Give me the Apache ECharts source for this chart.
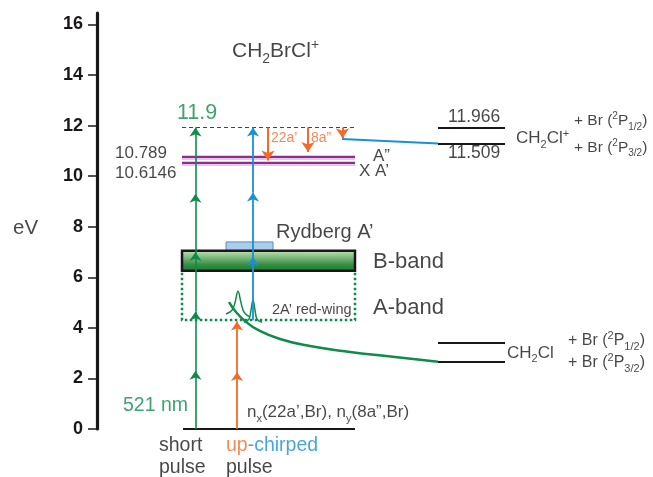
<!DOCTYPE html>
<html><head><meta charset="utf-8">
<script src="https://cdn.jsdelivr.net/npm/echarts@6/dist/echarts.min.js"></script>
<style>html,body{margin:0;padding:0;background:#fff}#c{width:653px;height:477px}</style>
</head><body><div id="c"></div>
<script>
// ---------------- data (energies in eV) ----------------
const yTickValues = [0, 2, 4, 6, 8, 10, 12, 14, 16];
const shortPulseE = [0, 2.3, 4.65, 7.0, 9.3, 11.93];      // 521 nm photons
const chirpRedE = [0, 2.25, 4.25];
const chirpBlueE = [4.3, 6.8, 9.35, 11.93];
const virtualLevelE = 11.93;                               // "11.9"
const ionStateE = [10.75, 10.52];
const ionStateValueLabels = ['10.789', '10.6146'];
const ionStateNames = ['A\u201D', 'X A\u2019'];
const holeArrowEndE = [10.62, 10.96, 11.5];
const holeArrowNames = ['22a\u2019', '8a\u201D'];
const ionAsymE = [11.93, 11.29];
const ionAsymLabels = ['11.966', '11.509'];
const neutralAsymE = [3.40, 2.66];
const bBandE = [6.26, 7.05];
const aBandE = [4.31, 6.26];
const rydbergE = [7.05, 7.40];
const curveE = [5.02, 4.63, 4.27, 3.92, 3.56, 3.28, 3.05, 2.85, 2.66];
const peak1E = [4.55, 4.7, 5.0, 5.45, 5.0, 4.62, 4.45];
const peak2E = [4.22, 4.35, 4.7, 5.1, 4.7, 4.35, 4.22];
const ionConnectE = [11.47, 11.29];

// ---------------- layout (horizontal positions, px) ----------------
const X = {
  level: [182, 355], shortX: 195.5, redX: 237, blueX: 253,
  hole: [268, 308, 342.5], asym: [438, 505], ryd: [226, 273],
  curve: [229, 236, 245, 258, 280, 310, 350, 395, 438],
  peak1: [226, 232, 235, 238, 241, 244, 249],
  peak2: [244, 249, 251, 253, 255, 257, 262],
  connect: [342, 438]
};
const C = { green: '#0f8b4c', orange: '#f26b2a', blue: '#1a90d5', purple: '#8a2f8f', ink: '#1a1718' };

function seg(x, a, b) { return { coords: [[x, a], [x, b]] }; }
function steps(x, arr) { const r = []; for (let i = 0; i < arr.length - 1; i++) r.push(seg(x, arr[i], arr[i + 1])); return r; }
function hline(x1, x2, e) { return { coords: [[x1, e], [x2, e]] }; }
function arrowSeries(data, color, size, width) {
  return { type: 'lines', coordinateSystem: 'cartesian2d', z: 5, symbol: ['none', 'arrow'], symbolSize: size,
    symbolOffset: [0, size[1] / 2], lineStyle: { color: color, width: width, opacity: 1 }, data: data, silent: true };
}
function lineSeries(data, style, z) {
  return { type: 'lines', coordinateSystem: 'cartesian2d', z: z || 3, symbol: 'none', lineStyle: Object.assign({ opacity: 1 }, style), data: data, silent: true };
}
function rectSeries(x1, x2, e1, e2, style, z) {
  return { type: 'custom', coordinateSystem: 'cartesian2d', z: z || 2, silent: true,
    data: [[x1, x2, e1, e2]], encode: { x: [0, 1], y: [2, 3] },
    renderItem: function (params, api) {
      const p1 = api.coord([api.value(0), api.value(3)]);
      const p2 = api.coord([api.value(1), api.value(2)]);
      return { type: 'rect', shape: { x: p1[0], y: p1[1], width: p2[0] - p1[0], height: p2[1] - p1[1] }, style: style };
    } };
}
function rich(fs, color) {
  return {
    m: { fontSize: fs, color: color, lineHeight: fs * 1.3 },
    s: { fontSize: Math.round(fs * 0.66), color: color, padding: [Math.round(fs * 0.75), 0, 0, 0], lineHeight: fs * 1.3 },
    p: { fontSize: Math.round(fs * 0.66), color: color, padding: [0, 0, Math.round(fs * 0.55), 0], lineHeight: fs * 1.3 },
    o: { fontSize: fs, color: C.orange, lineHeight: fs * 1.3 },
    b: { fontSize: fs, color: C.blue, lineHeight: fs * 1.3 }
  };
}
function txt(text, x, e, fs, opts) {
  opts = opts || {};
  const color = opts.color || C.ink;
  return { value: [x, e], label: { show: true, position: 'inside', align: opts.align || 'left', verticalAlign: 'middle',
    formatter: text, fontSize: fs, color: color, fontWeight: opts.bold ? 'bold' : 'normal', rich: rich(fs, color) } };
}
const brLine = (j) => '{m|+ Br (}{p|2}{m|P}{s|' + j + '}{m|)}';

const labels = [
  txt('eV', 13, 7.95, 20.5),
  txt('{m|CH}{s|2}{m|BrCl}{p|+}', 232, 14.96, 21),
  txt('11.9', 177, 12.49, 21.5, { color: C.green }),
  txt(ionStateValueLabels[0], 115, 10.92, 17),
  txt(ionStateValueLabels[1], 115, 10.13, 17),
  txt(ionStateNames[0], 373, 10.80, 17),
  txt(ionStateNames[1], 359, 10.19, 17),
  txt(holeArrowNames[0], 271, 11.50, 14, { color: C.orange }),
  txt(holeArrowNames[1], 311, 11.50, 14, { color: C.orange }),
  txt('Rydberg A\u2019', 276, 7.79, 20),
  txt('B-band', 373, 6.61, 22),
  txt('A-band', 373, 4.79, 22),
  txt('2A\u2019 red-wing', 272, 4.71, 14.5),
  txt(ionAsymLabels[0], 448, 12.32, 17.5),
  txt(ionAsymLabels[1], 448, 10.91, 17.5),
  txt('{m|CH}{s|2}{m|Cl}{p|+}', 516, 11.51, 17),
  txt(brLine('1/2'), 574, 12.18, 15.5),
  txt(brLine('3/2'), 574, 11.14, 15.5),
  txt('{m|CH}{s|2}{m|Cl}', 507, 3.01, 17),
  txt(brLine('1/2'), 568, 3.49, 16),
  txt(brLine('3/2'), 568, 2.63, 16),
  txt('521 nm', 123, 0.91, 19.5, { color: C.green }),
  txt('{m|n}{s|x}{m|(22a\u2019,Br), n}{s|y}{m|(8a\u201D,Br)}', 247, 0.65, 17),
  txt('short', 159, -0.66, 19.5),
  txt('pulse', 159, -1.52, 19.5),
  txt('{o|up}{b|-chirped}', 226, -0.66, 19.5),
  txt('pulse', 226, -1.52, 19.5)
];

const series = [
  // bands
  rectSeries(X.level[0], X.level[1], aBandE[0], aBandE[1], { fill: 'none', stroke: C.green, lineWidth: 2.5, lineDash: [2.5, 2.5] }, 1),
  rectSeries(X.ryd[0], X.ryd[1], rydbergE[0], rydbergE[1], { fill: '#a9cdeb', stroke: '#5a8ebf', lineWidth: 1 }, 1),
  rectSeries(X.level[0], X.level[1], bBandE[0], bBandE[1], {
    fill: new echarts.graphic.LinearGradient(0, 0, 0, 1, [
      { offset: 0, color: '#cfe8bd' }, { offset: 0.7, color: '#2f8c3f' }, { offset: 1, color: '#1d7a36' }]),
    stroke: C.ink, lineWidth: 2.5 }, 2),
  // level lines
  lineSeries([hline(X.level[0], X.level[1], ionStateE[0]), hline(X.level[0], X.level[1], ionStateE[1])], { color: '#e8c6e8', width: 5 }, 3),
  lineSeries([hline(X.level[0], X.level[1], ionStateE[0]), hline(X.level[0], X.level[1], ionStateE[1])], { color: C.purple, width: 2.2 }, 3),
  lineSeries([hline(X.level[0], X.level[1], virtualLevelE)], { color: '#444', width: 1, type: [4, 3] }, 3),
  lineSeries([hline(183, X.level[1], 0)], { color: C.ink, width: 2.2 }, 3),
  lineSeries([hline(X.asym[0], X.asym[1], ionAsymE[0]), hline(X.asym[0], X.asym[1], ionAsymE[1]),
              hline(X.asym[0], X.asym[1], neutralAsymE[0]), hline(X.asym[0], X.asym[1], neutralAsymE[1])], { color: C.ink, width: 2 }, 3),
  lineSeries([{ coords: [[X.connect[0], ionConnectE[0]], [X.connect[1], ionConnectE[1]]] }], { color: C.blue, width: 2 }, 4),
  // repulsive curve and pulse spectra
  { type: 'line', z: 4, smooth: 0.5, symbol: 'none', silent: true, lineStyle: { color: C.green, width: 2.5 },
    data: curveE.map((e, i) => [X.curve[i], e]) },
  { type: 'line', z: 4, smooth: 0.4, symbol: 'none', silent: true, lineStyle: { color: C.green, width: 1.5 },
    data: peak1E.map((e, i) => [X.peak1[i], e]) },
  { type: 'line', z: 4, smooth: 0.4, symbol: 'none', silent: true, lineStyle: { color: C.green, width: 1.5 },
    data: peak2E.map((e, i) => [X.peak2[i], e]) },
  // arrows
  arrowSeries(steps(X.shortX, shortPulseE), C.green, [7, 9], 1.6),
  arrowSeries(steps(X.redX, chirpRedE), C.orange, [7, 9], 1.8),
  arrowSeries(steps(X.blueX, chirpBlueE), C.blue, [7, 9], 1.8),
  arrowSeries(X.hole.map((x, i) => seg(x, virtualLevelE, holeArrowEndE[i])), C.orange, [10, 10], 2),
  // texts
  { type: 'scatter', z: 10, clip: false, silent: true, symbolSize: 1, itemStyle: { color: 'rgba(0,0,0,0)' }, data: labels }
];

const chart = echarts.init(document.getElementById('c'), null, { renderer: 'canvas' });
chart.setOption({
  animation: false,
  textStyle: { fontFamily: '"Liberation Sans", Arial, sans-serif' },
  grid: { left: 97, right: 0, top: 13.1, bottom: 48 },
  xAxis: { type: 'value', min: 97, max: 653, show: false },
  yAxis: {
    type: 'value', min: 0, max: 16.45, interval: 2,
    axisLine: { show: true, lineStyle: { color: C.ink, width: 3.2 } },
    axisTick: { show: true, length: 9, lineStyle: { color: C.ink, width: 1.5 }, customValues: yTickValues },
    axisLabel: { margin: 14, fontSize: 18, fontWeight: 'bold', color: C.ink, customValues: yTickValues },
    splitLine: { show: false }
  },
  series: series
});
</script></body></html>
